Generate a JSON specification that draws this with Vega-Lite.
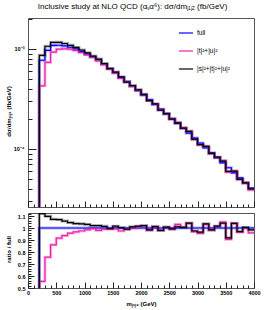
{
"$schema": "https://vega.github.io/schema/vega-lite/v6.json",
"padding": {"left": 4, "top": 3, "right": 2, "bottom": 2},
"title": {"text": "Inclusive study at NLO QCD (αₛα⁶): dσ/dmⱼ₁ⱼ₂ (fb/GeV)", "fontSize": 8, "fontWeight": "normal", "font": "Liberation Sans", "offset": 5, "anchor": "middle", "color": "#000"},
"data": {"values": [
{"m":0,"s":"1","v":1e-9,"r":0},{"m":200,"s":"1","v":7.71e-4,"r":1},{"m":300,"s":"1","v":9.70e-4,"r":1},{"m":400,"s":"1","v":1.084e-3,"r":1},{"m":500,"s":"1","v":1.089e-3,"r":1},{"m":600,"s":"1","v":1.072e-3,"r":1},{"m":700,"s":"1","v":1.040e-3,"r":1},{"m":800,"s":"1","v":1.000e-3,"r":1},{"m":900,"s":"1","v":9.44e-4,"r":1},{"m":1000,"s":"1","v":8.87e-4,"r":1},{"m":1100,"s":"1","v":8.32e-4,"r":1},{"m":1200,"s":"1","v":7.76e-4,"r":1},{"m":1300,"s":"1","v":7.05e-4,"r":1},{"m":1400,"s":"1","v":6.38e-4,"r":1},{"m":1500,"s":"1","v":5.78e-4,"r":1},{"m":1600,"s":"1","v":5.22e-4,"r":1},{"m":1700,"s":"1","v":4.72e-4,"r":1},{"m":1800,"s":"1","v":4.26e-4,"r":1},{"m":1900,"s":"1","v":3.84e-4,"r":1},{"m":2000,"s":"1","v":3.45e-4,"r":1},{"m":2100,"s":"1","v":3.10e-4,"r":1},{"m":2200,"s":"1","v":2.79e-4,"r":1},{"m":2300,"s":"1","v":2.50e-4,"r":1},{"m":2400,"s":"1","v":2.24e-4,"r":1},{"m":2500,"s":"1","v":2.01e-4,"r":1},{"m":2600,"s":"1","v":1.80e-4,"r":1},{"m":2700,"s":"1","v":1.61e-4,"r":1},{"m":2800,"s":"1","v":1.44e-4,"r":1},{"m":2900,"s":"1","v":1.285e-4,"r":1},{"m":3000,"s":"1","v":1.148e-4,"r":1},{"m":3100,"s":"1","v":1.026e-4,"r":1},{"m":3200,"s":"1","v":9.16e-5,"r":1},{"m":3300,"s":"1","v":8.17e-5,"r":1},{"m":3400,"s":"1","v":7.28e-5,"r":1},{"m":3500,"s":"1","v":6.49e-5,"r":1},{"m":3600,"s":"1","v":5.78e-5,"r":1},{"m":3700,"s":"1","v":5.14e-5,"r":1},{"m":3800,"s":"1","v":4.57e-5,"r":1},{"m":3900,"s":"1","v":4.06e-5,"r":1},{"m":4000,"s":"1","v":4.06e-5,"r":1},
{"m":0,"s":"2","v":1e-9,"r":0},{"m":200,"s":"2","v":4.28e-4,"r":0.555},{"m":300,"s":"2","v":7.34e-4,"r":0.757},{"m":400,"s":"2","v":9.32e-4,"r":0.86},{"m":500,"s":"2","v":9.96e-4,"r":0.915},{"m":600,"s":"2","v":1.004e-3,"r":0.937},{"m":700,"s":"2","v":9.95e-4,"r":0.957},{"m":800,"s":"2","v":9.67e-4,"r":0.967},{"m":900,"s":"2","v":9.20e-4,"r":0.975},{"m":1000,"s":"2","v":8.74e-4,"r":0.985},{"m":1100,"s":"2","v":8.28e-4,"r":0.995},{"m":1200,"s":"2","v":7.60e-4,"r":0.98},{"m":1300,"s":"2","v":6.98e-4,"r":0.99},{"m":1400,"s":"2","v":6.32e-4,"r":0.99},{"m":1500,"s":"2","v":5.74e-4,"r":0.993},{"m":1600,"s":"2","v":5.09e-4,"r":0.975},{"m":1700,"s":"2","v":4.67e-4,"r":0.99},{"m":1800,"s":"2","v":4.25e-4,"r":0.998},{"m":1900,"s":"2","v":3.88e-4,"r":1.01},{"m":2000,"s":"2","v":3.50e-4,"r":1.015},{"m":2100,"s":"2","v":3.04e-4,"r":0.98},{"m":2200,"s":"2","v":2.82e-4,"r":1.01},{"m":2300,"s":"2","v":2.45e-4,"r":0.98},{"m":2400,"s":"2","v":2.25e-4,"r":1.005},{"m":2500,"s":"2","v":1.99e-4,"r":0.99},{"m":2600,"s":"2","v":1.85e-4,"r":1.03},{"m":2700,"s":"2","v":1.62e-4,"r":1.005},{"m":2800,"s":"2","v":1.50e-4,"r":1.04},{"m":2900,"s":"2","v":1.246e-4,"r":0.97},{"m":3000,"s":"2","v":1.096e-4,"r":0.955},{"m":3100,"s":"2","v":1.057e-4,"r":1.03},{"m":3200,"s":"2","v":8.98e-5,"r":0.98},{"m":3300,"s":"2","v":8.29e-5,"r":1.015},{"m":3400,"s":"2","v":7.64e-5,"r":1.05},{"m":3500,"s":"2","v":5.87e-5,"r":0.905},{"m":3600,"s":"2","v":6.01e-5,"r":1.04},{"m":3700,"s":"2","v":4.96e-5,"r":0.965},{"m":3800,"s":"2","v":4.57e-5,"r":1.0},{"m":3900,"s":"2","v":3.90e-5,"r":0.96},{"m":4000,"s":"2","v":3.90e-5,"r":0.96},
{"m":0,"s":"3","v":1e-9,"r":0},{"m":200,"s":"3","v":8.635e-4,"r":1.12},{"m":300,"s":"3","v":1.064e-3,"r":1.097},{"m":400,"s":"3","v":1.162e-3,"r":1.072},{"m":500,"s":"3","v":1.165e-3,"r":1.07},{"m":600,"s":"3","v":1.134e-3,"r":1.058},{"m":700,"s":"3","v":1.087e-3,"r":1.045},{"m":800,"s":"3","v":1.037e-3,"r":1.037},{"m":900,"s":"3","v":9.77e-4,"r":1.035},{"m":1000,"s":"3","v":9.14e-4,"r":1.03},{"m":1100,"s":"3","v":8.49e-4,"r":1.02},{"m":1200,"s":"3","v":7.92e-4,"r":1.02},{"m":1300,"s":"3","v":7.15e-4,"r":1.014},{"m":1400,"s":"3","v":6.35e-4,"r":0.995},{"m":1500,"s":"3","v":5.87e-4,"r":1.015},{"m":1600,"s":"3","v":5.24e-4,"r":1.003},{"m":1700,"s":"3","v":4.67e-4,"r":0.99},{"m":1800,"s":"3","v":4.30e-4,"r":1.01},{"m":1900,"s":"3","v":3.90e-4,"r":1.015},{"m":2000,"s":"3","v":3.52e-4,"r":1.02},{"m":2100,"s":"3","v":3.05e-4,"r":0.985},{"m":2200,"s":"3","v":2.82e-4,"r":1.012},{"m":2300,"s":"3","v":2.45e-4,"r":0.98},{"m":2400,"s":"3","v":2.26e-4,"r":1.008},{"m":2500,"s":"3","v":1.99e-4,"r":0.992},{"m":2600,"s":"3","v":1.82e-4,"r":1.01},{"m":2700,"s":"3","v":1.62e-4,"r":1.005},{"m":2800,"s":"3","v":1.50e-4,"r":1.04},{"m":2900,"s":"3","v":1.253e-4,"r":0.975},{"m":3000,"s":"3","v":1.108e-4,"r":0.965},{"m":3100,"s":"3","v":1.062e-4,"r":1.035},{"m":3200,"s":"3","v":9.02e-5,"r":0.985},{"m":3300,"s":"3","v":8.29e-5,"r":1.015},{"m":3400,"s":"3","v":7.57e-5,"r":1.04},{"m":3500,"s":"3","v":5.96e-5,"r":0.918},{"m":3600,"s":"3","v":6.00e-5,"r":1.038},{"m":3700,"s":"3","v":4.99e-5,"r":0.97},{"m":3800,"s":"3","v":4.59e-5,"r":1.005},{"m":3900,"s":"3","v":4.00e-5,"r":0.985},{"m":4000,"s":"3","v":4.00e-5,"r":0.985}
]},
"spacing": 3,
"resolve": {"scale": {"color": "independent"}, "legend": {"color": "independent"}},
"vconcat": [
{
 "width": 226, "height": 189,
 "encoding": {
  "x": {"field": "m", "type": "quantitative", "scale": {"domain": [0, 4000], "nice": false, "zero": false},
        "axis": {"values": [0,100,200,300,400,500,600,700,800,900,1000,1100,1200,1300,1400,1500,1600,1700,1800,1900,2000,2100,2200,2300,2400,2500,2600,2700,2800,2900,3000,3100,3200,3300,3400,3500,3600,3700,3800,3900,4000],
                 "labels": false, "title": null, "tickSize": {"condition": {"test": "datum.value % 500 == 0", "value": -6}, "value": -3}}},
  "y": {"field": "v", "type": "quantitative", "scale": {"type": "log", "domain": [2.63e-5, 2.04e-3], "nice": false},
        "axis": {"values": [3e-5,4e-5,5e-5,6e-5,7e-5,8e-5,9e-5,1e-4,2e-4,3e-4,4e-4,5e-4,6e-4,7e-4,8e-4,9e-4,1e-3,2e-3],
                 "labelExpr": "datum.value == 0.001 ? '10⁻³' : (datum.value == 0.0001 ? '10⁻⁴' : '')",
                 "tickSize": {"condition": {"test": "datum.value == 0.001 || datum.value == 0.0001", "value": -8}, "value": -4},
                 "labelPadding": 12,
                 "title": "dσ/dmⱼ₁ⱼ₂ (fb/GeV)", "titleX": -20, "titleY": 93, "titleAlign": "center", "titleBaseline": "middle", "titleAngle": -90}},
  "color": {"field": "s", "type": "nominal",
            "scale": {"domain": ["1", "2", "3"], "range": ["#0000ff", "#ee1ea6", "#000000"]},
            "legend": {"orient": "none", "legendX": 150, "legendY": 7, "title": null,
                       "labelExpr": "datum.value == '1' ? 'full' : (datum.value == '2' ? '|t|²+|u|²' : '|s|²+|t|²+|u|²')",
                       "encode": {"symbols": {"update": {"strokeWidth": {"value": 1.2}, "opacity": {"value": 1}, "strokeOpacity": {"value": 1}}}}}}
 },
 "layer": [
  {"mark": {"type": "line", "interpolate": "step-after", "strokeWidth": 3, "opacity": 0.3, "clip": true}},
  {"mark": {"type": "line", "interpolate": "step-after", "strokeWidth": 1.2, "clip": true}}
 ]
},
{
 "width": 226, "height": 75,
 "encoding": {
  "x": {"field": "m", "type": "quantitative", "scale": {"domain": [0, 4000], "nice": false, "zero": false},
        "axis": {"values": [0,100,200,300,400,500,600,700,800,900,1000,1100,1200,1300,1400,1500,1600,1700,1800,1900,2000,2100,2200,2300,2400,2500,2600,2700,2800,2900,3000,3100,3200,3300,3400,3500,3600,3700,3800,3900,4000],
                 "format": "d",
                 "labelExpr": "datum.value % 500 == 0 ? datum.label : ''",
                 "tickSize": {"condition": {"test": "datum.value % 500 == 0", "value": -6}, "value": -3},
                 "labelPadding": 8,
                 "title": "mⱼ₁ⱼ₂ (GeV)", "titlePadding": 2}},
  "y": {"field": "r", "type": "quantitative", "scale": {"domain": [0.5, 1.125], "nice": false, "zero": false},
        "axis": {"values": [0.5,0.52,0.54,0.56,0.58,0.6,0.62,0.64,0.66,0.68,0.7,0.72,0.74,0.76,0.78,0.8,0.82,0.84,0.86,0.88,0.9,0.92,0.94,0.96,0.98,1,1.02,1.04,1.06,1.08,1.1,1.12],
                 "labelExpr": "abs(datum.value*10 - round(datum.value*10)) < 0.001 ? format(datum.value, '~g') : ''",
                 "tickSize": {"condition": {"test": "abs(datum.value*10 - round(datum.value*10)) < 0.001", "value": -6}, "value": -3},
                 "labelPadding": 9,
                 "title": "ratio / full", "titleX": -20, "titleY": 36, "titleAlign": "center", "titleBaseline": "middle", "titleAngle": -90}},
  "color": {"field": "s", "type": "nominal", "legend": null,
            "scale": {"domain": ["1", "2", "3"], "range": ["#0000ff", "#ee1ea6", "#000000"]}}
 },
 "layer": [
  {"mark": {"type": "line", "interpolate": "step-after", "strokeWidth": 3, "opacity": 0.3, "clip": true}},
  {"mark": {"type": "line", "interpolate": "step-after", "strokeWidth": 1.2, "clip": true}}
 ]
}
],
"config": {
 "font": "Liberation Sans",
 "view": {"stroke": "#555", "strokeWidth": 1},
 "axis": {"domain": false, "grid": false, "tickColor": "#222", "labelFont": "Liberation Sans", "labelFontWeight": "bold", "labelFontSize": 5.5, "labelColor": "#000",
          "titleFont": "Liberation Sans", "titleFontWeight": "bold", "titleFontSize": 6, "titleColor": "#000", "labelFlush": false, "labelOverlap": false},
 "legend": {"labelFont": "Liberation Sans", "labelFontSize": 6.5, "labelColor": "#000", "symbolType": "stroke", "symbolStrokeWidth": 1.2, "symbolOpacity": 1, "symbolSize": 200, "rowPadding": 6, "labelOffset": 3}
}
}
